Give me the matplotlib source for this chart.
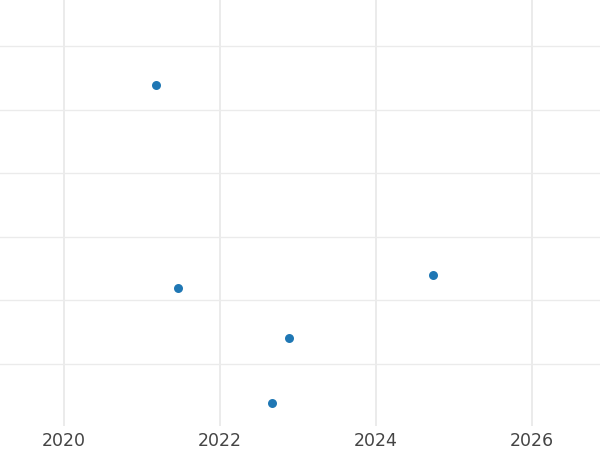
import matplotlib
matplotlib.use('Agg')
import matplotlib.pyplot as plt

# data
years = [2021.18, 2021.46, 2022.88, 2022.67, 2024.73]
values = [5.39, 2.19, 1.40, 0.39, 2.40]
xticks = [2020, 2022, 2024, 2026]
yticks = [1, 2, 3, 4, 5, 6]

fig = plt.figure(figsize=(6, 4.5), dpi=100)
ax = fig.add_axes([0, 24 / 450, 1, 426 / 450])

ax.scatter(years, values, s=42, color='#1f77b4', zorder=3, linewidths=0)

ax.set_xlim(2019.18, 2026.87)
ax.set_ylim(0.02, 6.73)
ax.set_xticks(xticks)
ax.set_xticklabels([str(t) for t in xticks])
ax.set_yticks(yticks)
ax.set_yticklabels([])

ax.grid(True, axis='x', color='#ebebeb', linewidth=1.4)
ax.grid(True, axis='y', color='#ebebeb', linewidth=1.0)
ax.set_axisbelow(True)
for s in ax.spines.values():
    s.set_visible(False)
ax.tick_params(axis='both', length=0)
ax.tick_params(axis='x', pad=4, labelsize=12.5, labelcolor='#444444')

fig.savefig('out.png', dpi=100)
